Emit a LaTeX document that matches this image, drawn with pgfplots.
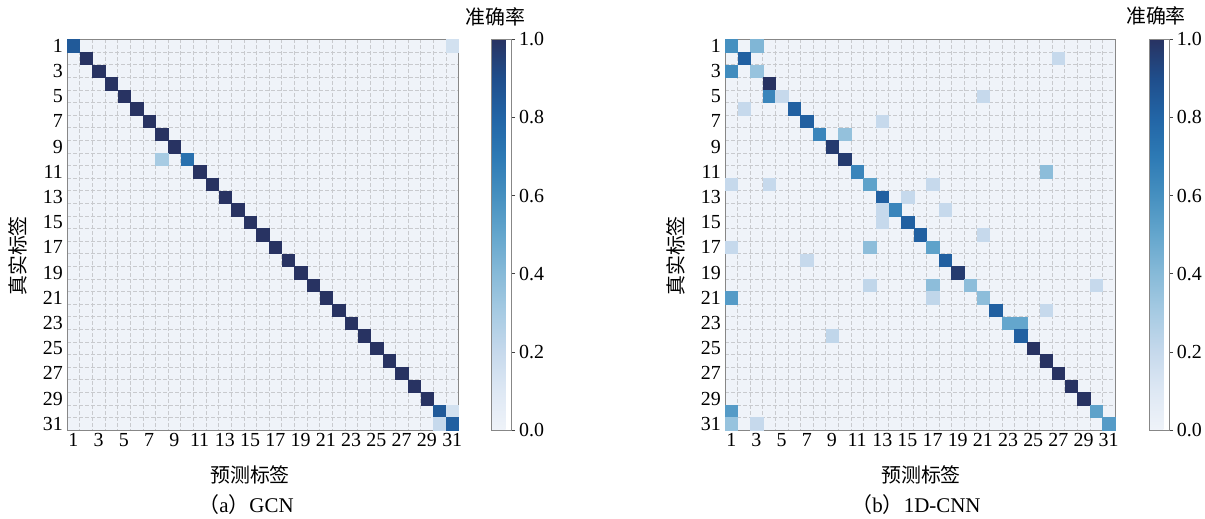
\documentclass[border=0pt]{standalone}
\usepackage{pgfplots}
\pgfplotsset{compat=1.18}
\usepackage{pgfplotstable}
\usepackage{fontspec}
\setmainfont{Liberation Serif}
\newfontfamily\cjk{Noto Sans CJK SC}
\definecolor{bgzero}{RGB}{239,243,249}
\definecolor{framegray}{RGB}{135,135,135}
\definecolor{gridgray}{RGB}{200,202,206}

\pgfplotstableread{
x y c
1 1 0.85
31 1 0.15
2 2 1
3 3 1
4 4 1
5 5 1
6 6 1
7 7 1
8 8 1
9 9 1
8 10 0.3
10 10 0.75
11 11 1
12 12 1
13 13 1
14 14 1
15 15 1
16 16 1
17 17 1
18 18 1
19 19 1
20 20 1
21 21 1
22 22 1
23 23 1
24 24 1
25 25 1
26 26 1
27 27 1
28 28 1
29 29 1
30 30 0.85
31 30 0.15
30 31 0.2
31 31 0.82
}\gcntab

\pgfplotstableread{
x y c
1 1 0.6
3 1 0.42
2 2 0.82
27 2 0.2
1 3 0.62
3 3 0.35
4 4 1.0
4 5 0.65
5 5 0.2
21 5 0.2
2 6 0.2
6 6 0.82
7 7 0.82
13 7 0.2
8 8 0.65
10 8 0.36
9 9 0.97
10 10 0.97
11 11 0.65
26 11 0.38
1 12 0.2
4 12 0.2
12 12 0.52
17 12 0.2
13 13 0.82
15 13 0.2
13 14 0.2
14 14 0.65
18 14 0.2
13 15 0.2
15 15 0.82
16 16 0.82
21 16 0.2
1 17 0.2
12 17 0.38
17 17 0.52
7 18 0.2
18 18 0.82
19 19 0.97
12 20 0.22
17 20 0.38
20 20 0.38
30 20 0.2
1 21 0.55
17 21 0.22
21 21 0.38
22 22 0.82
26 22 0.2
23 23 0.5
24 23 0.5
9 24 0.22
24 24 0.82
25 25 1.0
26 26 1.0
27 27 1.0
28 28 1.0
29 29 1.0
1 30 0.55
30 30 0.52
1 31 0.35
3 31 0.2
31 31 0.55
}\cnntab

\pgfplotsset{
  colormap={accblues}{rgb255=(239,243,249) rgb255=(222,232,244) rgb255=(198,217,236) rgb255=(167,203,227) rgb255=(135,186,216) rgb255=(100,166,205) rgb255=(70,144,192) rgb255=(45,122,181) rgb255=(34,101,166) rgb255=(31,78,140) rgb255=(40,51,98)},
  cmstyle/.style={
    anchor=south west,
    y=12.6bp,
    xmin=0.5, xmax=31.5, ymin=0.5, ymax=31.5,
    y dir=reverse,
    axis background/.style={fill=bgzero},
    axis line style={framegray, line width=0.9bp},
    xtick={1,3,...,31}, ytick={1,3,...,31},
    minor xtick={1.5,2.5,...,30.5}, minor ytick={1.5,2.5,...,30.5},
    xminorgrids, yminorgrids,
    minor grid style={gridgray, line width=0.5bp, dash pattern=on 4bp off 2bp},
    major tick length=0pt, minor tick length=0pt,
    tick style={draw=none},
    ticklabel style={font=\fontsize{20}{20}\selectfont},
    xticklabel style={inner sep=2bp, yshift=-1bp},
    yticklabel style={inner sep=2bp, xshift=-2bp},
    /pgf/number format/assume math mode=true,
    colormap name=accblues,
    point meta min=0, point meta max=1,
    colorbar,
  },
  cbstyle/.style={
    at={(parent axis.north east)}, anchor=north west,
    width=20bp, height=390.6bp, scale only axis,
    ytick={0,0.2,0.4,0.6,0.8,1}, yticklabels={0.0,0.2,0.4,0.6,0.8,1.0},
    ytick pos=right, yticklabel pos=right, ytick align=outside, major tick length=3.5bp,
    ytick style={draw=black!75, line width=0.6bp},
    axis line style={framegray, line width=0.9bp},
    yticklabel style={font=\fontsize{20}{20}\selectfont, inner sep=2bp, xshift=2bp},
  },
}

\begin{document}
\begin{tikzpicture}
\path[use as bounding box] (0,0) rectangle (1205bp,519bp);

\begin{axis}[cmstyle, at={(67bp,89bp)}, x=12.63bp,
  colorbar style={cbstyle, xshift=24.5bp}]
\addplot[scatter, only marks, mark=square*, mark size=6.2bp,
  mark options={line width=0.2bp},
  scatter/use mapped color={draw=mapped color, fill=mapped color},
  point meta=\thisrow{c}] table[x=x, y=y] {\gcntab};
\end{axis}

\begin{axis}[cmstyle, at={(725bp,89bp)}, x=12.58bp,
  colorbar style={cbstyle, xshift=25.7bp}]
\addplot[scatter, only marks, mark=square*, mark size=6.2bp,
  mark options={line width=0.2bp},
  scatter/use mapped color={draw=mapped color, fill=mapped color},
  point meta=\thisrow{c}] table[x=x, y=y] {\cnntab};
\end{axis}

\node[font=\cjk\fontsize{20}{20}\selectfont] at (250bp,44bp) {预测标签};
\node[font=\cjk\fontsize{20}{20}\selectfont] at (921bp,44bp) {预测标签};
\node[font=\cjk\fontsize{20}{20}\selectfont, rotate=90] at (18bp,263bp) {真实标签};
\node[font=\cjk\fontsize{20}{20}\selectfont, rotate=90] at (676bp,263bp) {真实标签};
\node[font=\fontsize{21}{21}\selectfont] at (246bp,14bp) {{\cjk （}a{\cjk ）}GCN};
\node[font=\fontsize{21}{21}\selectfont] at (916bp,14bp) {{\cjk （}b{\cjk ）}1D-CNN};
\node[font=\cjk\fontsize{20}{20}\selectfont] at (495.5bp,502bp) {准确率};
\node[font=\cjk\fontsize{20}{20}\selectfont] at (1156bp,503bp) {准确率};
\end{tikzpicture}
\end{document}
